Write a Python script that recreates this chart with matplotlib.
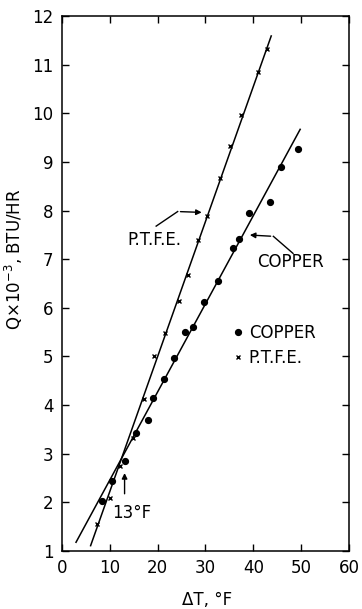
import numpy as np
import matplotlib.pyplot as plt

# data
copper_dt = [8.3, 10.4, 13.1, 15.4, 18.0, 19.0, 21.3, 23.5, 25.7, 27.4,
             29.7, 32.7, 35.8, 37.1, 39.2, 43.5, 45.7, 49.3]
copper_q = [2.03, 2.43, 2.85, 3.42, 3.69, 4.15, 4.54, 4.96, 5.50, 5.61,
            6.13, 6.56, 7.24, 7.41, 7.94, 8.18, 8.89, 9.27]

ptfe_dt = [7.3, 10.0, 12.2, 14.8, 17.1, 19.3, 21.6, 24.5, 26.4, 28.5,
           30.4, 33.0, 35.1, 37.4, 40.9, 42.9]
ptfe_q = [1.56, 2.10, 2.74, 3.32, 4.12, 5.00, 5.48, 6.15, 6.68, 7.39,
          7.89, 8.66, 9.33, 9.97, 10.85, 11.32]

# hand-drawn fit lines (end points)
copper_fit_dt = [2.95, 49.8]
copper_fit_q = [1.18, 9.67]
ptfe_fit_dt = [6.0, 43.75]
ptfe_fit_q = [1.11, 11.59]

x_ticks = [0, 10, 20, 30, 40, 50, 60]
y_ticks = list(range(1, 13))


def main():
    plt.rcParams["font.family"] = ["DejaVu Sans"]
    fig = plt.figure(figsize=(3.62, 6.09), dpi=100)
    ax = fig.add_axes([0.171, 0.0952, 0.793, 0.8785])

    ax.plot(ptfe_fit_dt, ptfe_fit_q, color="black", lw=1.1)
    ax.plot(copper_fit_dt, copper_fit_q, color="black", lw=1.1)

    ax.plot(copper_dt, copper_q, "o", color="black", ms=4.2, ls="none",
            label="COPPER")
    ax.plot(ptfe_dt, ptfe_q, "x", color="black", ms=3.5, mew=1.0, ls="none",
            label="P.T.F.E.")

    # callouts
    ax.text(19.3, 7.39, "P.T.F.E.", fontsize=12, ha="center", va="center")
    ax.plot([19.7, 24.2], [7.68, 7.98], color="black", lw=1.0)
    ax.annotate("", xy=(29.8, 7.96), xytext=(24.2, 7.98),
                arrowprops=dict(arrowstyle="-|>", color="black", lw=1.0,
                                mutation_scale=8))

    ax.text(47.7, 6.95, "COPPER", fontsize=12, ha="center", va="center")
    ax.plot([48.3, 44.2], [7.12, 7.47], color="black", lw=1.0)
    ax.annotate("", xy=(38.7, 7.50), xytext=(44.2, 7.47),
                arrowprops=dict(arrowstyle="-|>", color="black", lw=1.0,
                                mutation_scale=8))

    ax.text(14.5, 1.78, "13°F", fontsize=12, ha="center", va="center")
    ax.annotate("", xy=(13.1, 2.66), xytext=(13.1, 2.12),
                arrowprops=dict(arrowstyle="-|>", color="black", lw=1.0,
                                mutation_scale=8))

    ax.legend(loc="upper left", bbox_to_anchor=(0.596, 0.425), frameon=False,
              fontsize=12, handlelength=0.6, handletextpad=0.35,
              labelspacing=0.45, borderpad=0, borderaxespad=0)

    ax.set_xlim(0, 60)
    ax.set_ylim(1, 12)
    ax.set_xticks(x_ticks)
    ax.set_yticks(y_ticks)
    ax.tick_params(direction="in", length=5, width=1.0, labelsize=12,
                   top=True, right=True, pad=6)
    for s in ax.spines.values():
        s.set_linewidth(1.1)

    ax.set_xlabel("ΔT, °F", fontsize=12)
    ax.xaxis.set_label_coords(0.505, -0.075)
    ax.set_ylabel("Q×10$^{-3}$, BTU/HR", fontsize=12)
    ax.yaxis.set_label_coords(-0.13, 0.545)

    fig.savefig("out.png", dpi=100)


if __name__ == "__main__":
    main()
